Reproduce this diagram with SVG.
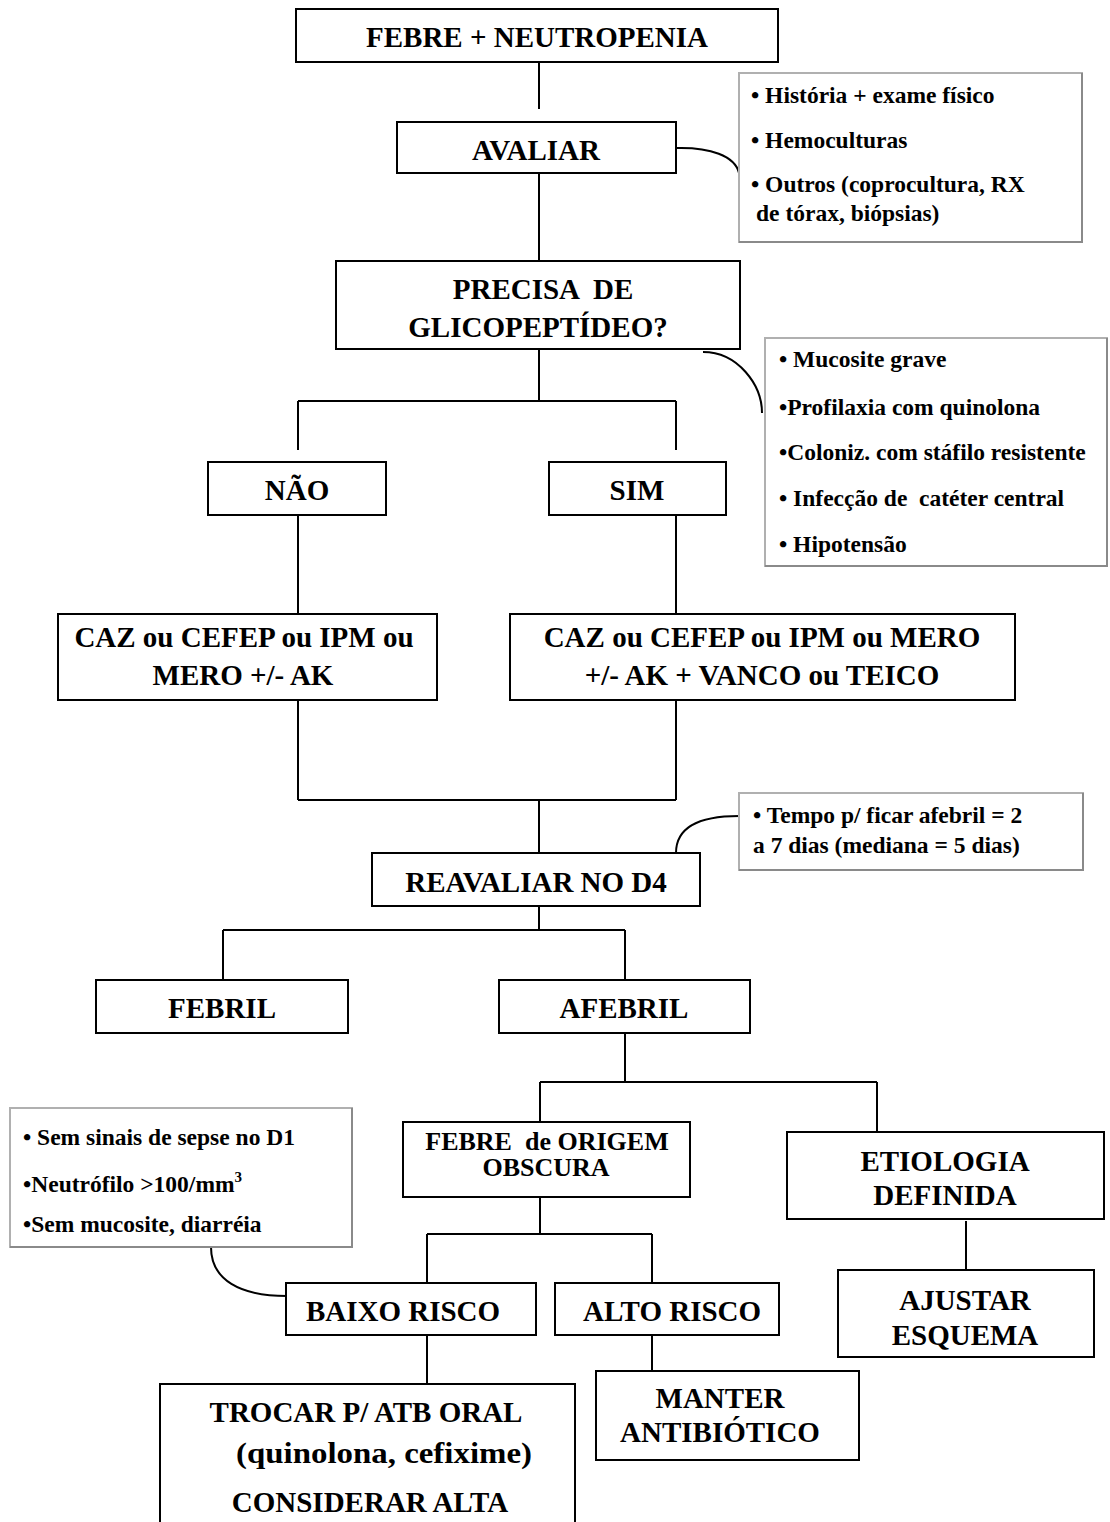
<svg xmlns="http://www.w3.org/2000/svg" width="1110" height="1522" viewBox="0 0 1110 1522">
<style>
.box{fill:#fff;stroke:#000;stroke-width:2}
.note{fill:#fff;stroke:#b0b0b0;stroke-width:2}
.sh{fill:none;stroke:#8a8a8a;stroke-width:2}
.t{font-family:"Liberation Serif","Times New Roman",serif;font-weight:bold;font-size:29px;fill:#000;text-anchor:middle}
.s{font-family:"Liberation Serif","Times New Roman",serif;font-weight:bold;font-size:23.5px;fill:#000}
.c{fill:none;stroke:#000;stroke-width:2}
</style>
<rect width="1110" height="1522" fill="#fff"/>
<g id="connectors">
<path class="c" d="M539,62V109M539,173V261M539,349V401M298,401H676M298,401V450M676,401V450M298,515V614M676,515V614M298,700V800M676,700V800M298,800H676M539,800V853M539,906V930M223,930H625M223,930V980M625,930V980M625,1033V1082M540,1082H877M540,1082V1122M877,1082V1132M966,1221V1270M540,1197V1234M427,1234H652M427,1234V1283M652,1234V1283M427,1335V1384M652,1335V1371"/>
<path class="c" d="M676,148C710,147 735,156 739,173"/>
<path class="c" d="M703,352C738,352 762,385 762,413"/>
<path class="c" d="M676,853C676,826 700,816 739,816"/>
<path class="c" d="M211,1247C211,1280 240,1296 287,1296"/>
</g>
<g id="n1"><rect class="box" x="296" y="9" width="482" height="53"/><text class="t" x="537" y="47">FEBRE + NEUTROPENIA</text></g>
<g id="n2"><rect class="box" x="397" y="122" width="279" height="51"/><text class="t" x="536" y="160">AVALIAR</text></g>
<g id="note1"><rect class="note" x="739" y="73" width="343" height="169"/><path class="sh" d="M1082,73V242H739"/>
<text class="s" x="751" y="103">• História + exame físico</text>
<text class="s" x="751" y="148">• Hemoculturas</text>
<text class="s" x="751" y="192">• Outros (coprocultura, RX</text>
<text class="s" x="756" y="221">de tórax, biópsias)</text></g>
<g id="n3"><rect class="box" x="336" y="261" width="404" height="88"/><text class="t" x="543" y="299" xml:space="preserve">PRECISA  DE</text><text class="t" x="538" y="337">GLICOPEPTÍDEO?</text></g>
<g id="note2"><rect class="note" x="765" y="338" width="342" height="228"/><path class="sh" d="M1107,338V566H765"/>
<text class="s" x="779" y="367">• Mucosite grave</text>
<text class="s" x="779" y="415">•Profilaxia com quinolona</text>
<text class="s" x="779" y="460">•Coloniz. com stáfilo resistente</text>
<text class="s" x="779" y="506" xml:space="preserve">• Infecção de  catéter central</text>
<text class="s" x="779" y="552">• Hipotensão</text></g>
<g id="n4"><rect class="box" x="208" y="462" width="178" height="53"/><text class="t" x="297" y="500">NÃO</text></g>
<g id="n5"><rect class="box" x="549" y="462" width="177" height="53"/><text class="t" x="637" y="500">SIM</text></g>
<g id="n6"><rect class="box" x="58" y="614" width="379" height="86"/><text class="t" x="244" y="647">CAZ ou CEFEP ou IPM ou</text><text class="t" x="243" y="685">MERO +/- AK</text></g>
<g id="n7"><rect class="box" x="510" y="614" width="505" height="86"/><text class="t" x="762" y="647">CAZ ou CEFEP ou IPM ou MERO</text><text class="t" x="762" y="685">+/- AK + VANCO ou TEICO</text></g>
<g id="n8"><rect class="box" x="372" y="853" width="328" height="53"/><text class="t" x="536" y="892">REAVALIAR NO D4</text></g>
<g id="note3"><rect class="note" x="739" y="793" width="344" height="77"/><path class="sh" d="M1083,793V870H739"/>
<text class="s" x="753" y="823">• Tempo p/ ficar afebril = 2</text>
<text class="s" x="753" y="853">a 7 dias (mediana = 5 dias)</text></g>
<g id="n9"><rect class="box" x="96" y="980" width="252" height="53"/><text class="t" x="222" y="1018">FEBRIL</text></g>
<g id="n10"><rect class="box" x="499" y="980" width="251" height="53"/><text class="t" x="624" y="1018">AFEBRIL</text></g>
<g id="n11"><rect class="box" x="403" y="1122" width="287" height="75"/><text class="t" x="547" y="1150" style="font-size:26px" xml:space="preserve">FEBRE  de ORIGEM</text><text class="t" x="546" y="1176" style="font-size:26px">OBSCURA</text></g>
<g id="n12"><rect class="box" x="787" y="1132" width="317" height="87"/><text class="t" x="945" y="1171">ETIOLOGIA</text><text class="t" x="945" y="1205">DEFINIDA</text></g>
<g id="note4"><rect class="note" x="10" y="1108" width="342" height="139"/><path class="sh" d="M352,1108V1247H10"/>
<text class="s" x="23" y="1145">• Sem sinais de sepse no D1</text>
<text class="s" x="23" y="1192">•Neutrófilo &gt;100/mm<tspan dy="-10" style="font-size:15px">3</tspan></text>
<text class="s" x="23" y="1232">•Sem mucosite, diarréia</text></g>
<g id="n13"><rect class="box" x="286" y="1283" width="250" height="52"/><text class="t" x="403" y="1321">BAIXO RISCO</text></g>
<g id="n14"><rect class="box" x="555" y="1283" width="224" height="52"/><text class="t" x="672" y="1321">ALTO RISCO</text></g>
<g id="n15"><rect class="box" x="838" y="1270" width="256" height="87"/><text class="t" x="965" y="1310">AJUSTAR</text><text class="t" x="965" y="1345">ESQUEMA</text></g>
<g id="n16"><path class="box" d="M160,1523V1384H575V1523"/><text class="t" x="366" y="1422">TROCAR P/ ATB ORAL</text><text class="t" x="384" y="1463" textLength="296" lengthAdjust="spacingAndGlyphs">(quinolona, cefixime)</text><text class="t" x="370" y="1512">CONSIDERAR ALTA</text></g>
<g id="n17"><rect class="box" x="596" y="1371" width="263" height="89"/><text class="t" x="720" y="1408">MANTER</text><text class="t" x="720" y="1442">ANTIBIÓTICO</text></g>
</svg>
